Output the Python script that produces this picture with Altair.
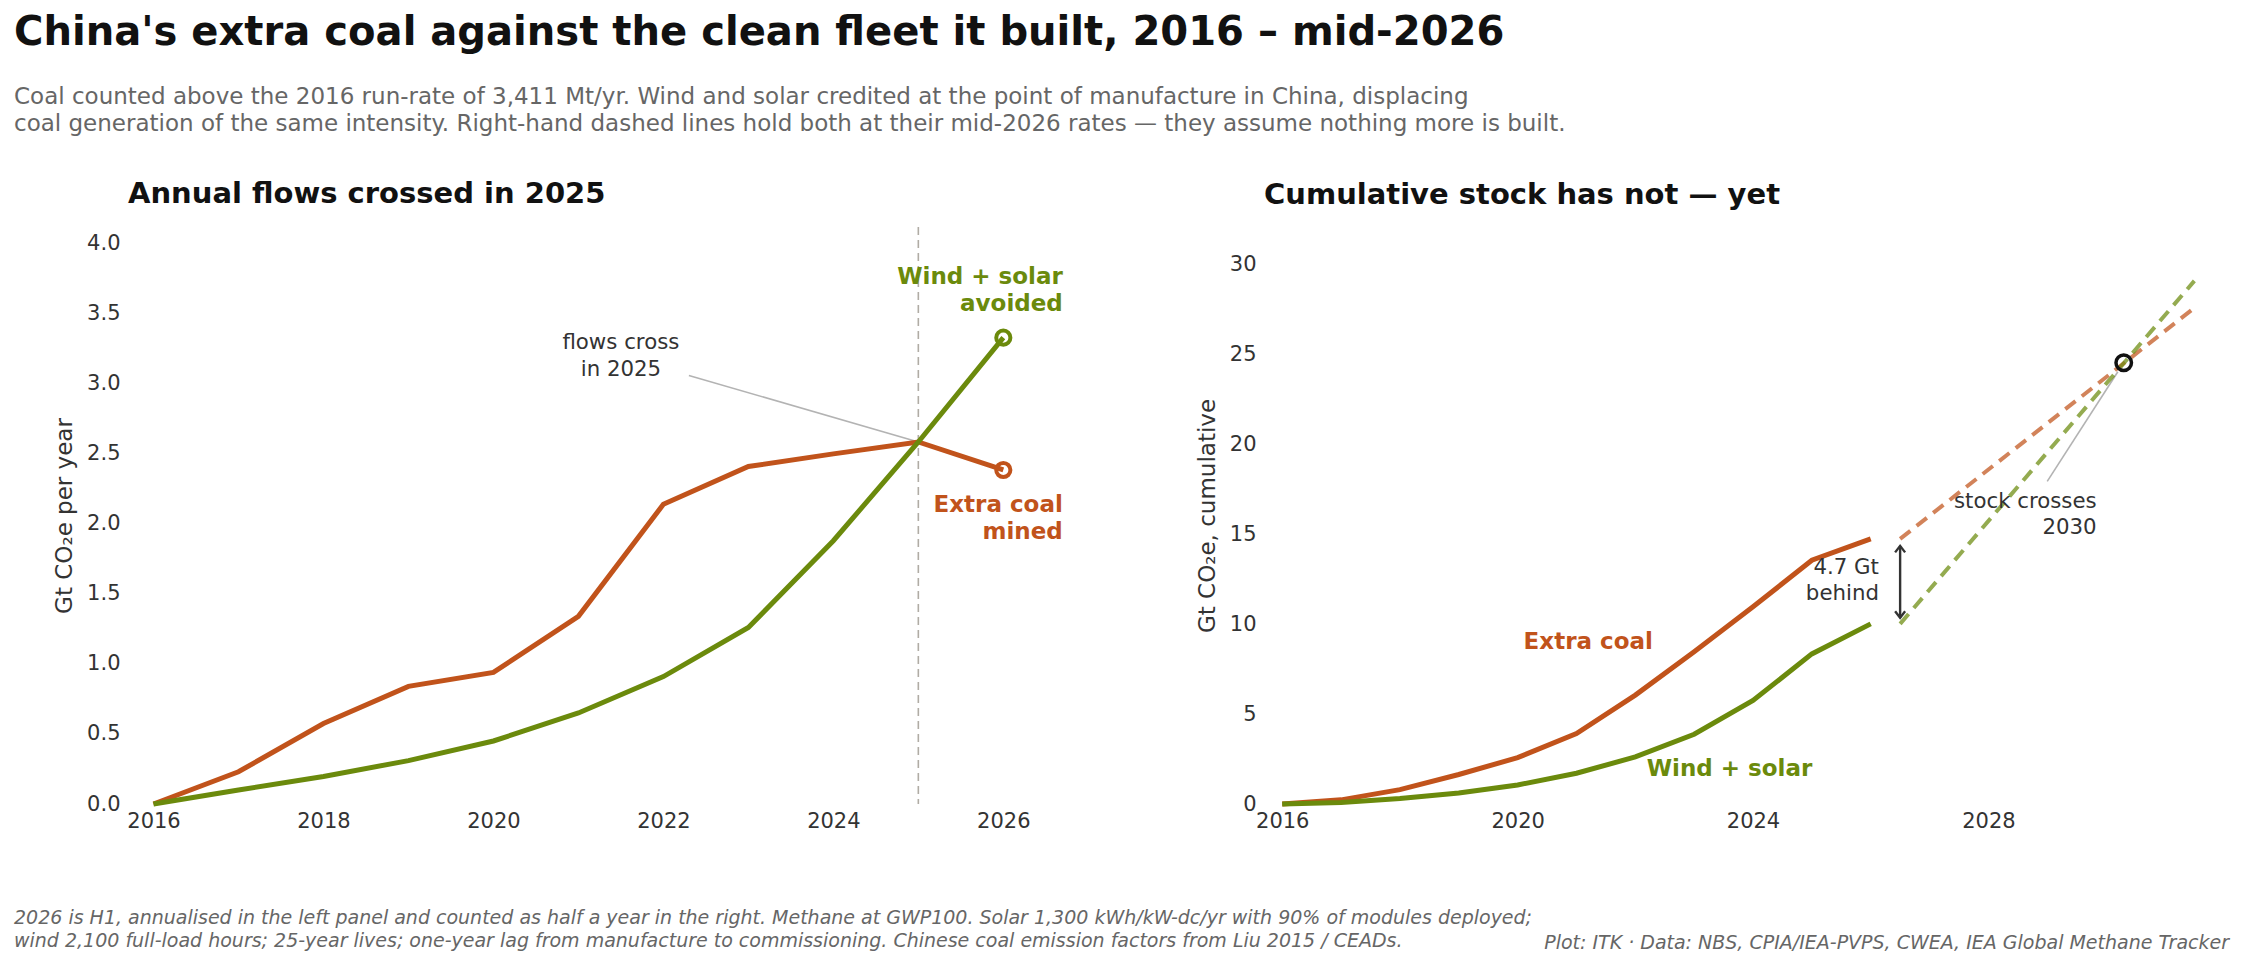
import altair as alt
import pandas as pd

# ---------------- data ----------------
years = [2016, 2017, 2018, 2019, 2020, 2021, 2022, 2023, 2024, 2025, 2026]
coal_flow = [0.0, 0.23, 0.575, 0.84, 0.94, 1.34, 2.14, 2.41, 2.50, 2.585, 2.385]
ws_flow = [0.0, 0.10, 0.196, 0.31, 0.45, 0.65, 0.91, 1.26, 1.88, 2.585, 3.33]
coal_cum = [0.0, 0.23, 0.80, 1.64, 2.58, 3.92, 6.06, 8.47, 10.97, 13.56, 14.75]
ws_cum = [0.0, 0.08, 0.30, 0.61, 1.06, 1.71, 2.62, 3.88, 5.76, 8.35, 10.02]
proj_years = [2026.5, 2031.5]
coal_proj = [14.75, 27.6]
ws_proj = [10.02, 29.1]
flow_cross_year = 2025
flow_cross_value = 2.585
stock_cross_year = 2030.3
stock_cross_value = 24.55
gap_low, gap_high = 10.36, 14.36

left_xticks = [2016, 2018, 2020, 2022, 2024, 2026]
left_yticks = [0.0, 0.5, 1.0, 1.5, 2.0, 2.5, 3.0, 3.5, 4.0]
right_xticks = [2016, 2020, 2024, 2028]
right_yticks = [0, 5, 10, 15, 20, 25, 30]

COAL = "#c1531b"
WS = "#6b8a0c"
INK = "#333333"
LEAD = "#b3b3b3"
FONT = "DejaVu Sans"

W_L, W_R, H = 945, 948, 577

title_text = "China's extra coal against the clean fleet it built, 2016 \u2013 mid-2026"
subtitle_lines = [
    "Coal counted above the 2016 run-rate of 3,411 Mt/yr. Wind and solar credited at the point of manufacture in China, displacing",
    "coal generation of the same intensity. Right-hand dashed lines hold both at their mid-2026 rates \u2014 they assume nothing more is built.",
]
foot_left = ("2026 is H1, annualised in the left panel and counted as half a year in the right. Methane at GWP100. "
             "Solar 1,300 kWh/kW-dc/yr with 90% of modules deployed;\n"
             "wind 2,100 full-load hours; 25-year lives; one-year lag from manufacture to commissioning. "
             "Chinese coal emission factors from Liu 2015 / CEADs.")
foot_right = "Plot: ITK \u00b7 Data: NBS, CPIA/IEA-PVPS, CWEA, IEA Global Methane Tracker"

LW = 5

# ---------------- left panel ----------------
xL = alt.X("x:Q", scale=alt.Scale(domain=[2015.7, 2026.82], nice=False, zero=False),
           axis=alt.Axis(values=left_xticks, format="d", title=None, labelPadding=6, labelFlush=False))
yL = alt.Y("y:Q", scale=alt.Scale(domain=[0, 4.12], nice=False, zero=False),
           axis=alt.Axis(values=left_yticks, format=".1f", title="Gt CO\u2082e per year",
                         labelPadding=8, titlePadding=10))

vline = alt.Chart(pd.DataFrame({"x": [flow_cross_year]})).mark_rule(
    color="#b0aca5", strokeWidth=1.6, strokeDash=[8, 5]).encode(x=xL)
leadL = alt.Chart(pd.DataFrame({"x": [2022.3], "y": [3.06], "x2": [flow_cross_year], "y2": [flow_cross_value]})).mark_rule(
    color=LEAD, strokeWidth=1.6).encode(x=xL, y=yL, x2="x2:Q", y2="y2:Q")
lineLc = alt.Chart(pd.DataFrame({"x": years, "y": coal_flow})).mark_line(
    color=COAL, strokeWidth=LW).encode(x=xL, y=yL)
lineLw = alt.Chart(pd.DataFrame({"x": years, "y": ws_flow})).mark_line(
    color=WS, strokeWidth=LW).encode(x=xL, y=yL)
endLc = alt.Chart(pd.DataFrame({"x": [years[-1]], "y": [coal_flow[-1]]})).mark_point(
    shape="circle", filled=False, size=200, strokeWidth=4, color=COAL, opacity=1).encode(x=xL, y=yL)
endLw = alt.Chart(pd.DataFrame({"x": [years[-1]], "y": [ws_flow[-1]]})).mark_point(
    shape="circle", filled=False, size=200, strokeWidth=4, color=WS, opacity=1).encode(x=xL, y=yL)
txtLflow = alt.Chart(pd.DataFrame({"x": [2021.5], "y": [3.29], "t": ["flows cross\nin 2025"]})).mark_text(
    align="center", baseline="middle", lineBreak="\n", lineHeight=26.5, fontSize=21.3, color=INK).encode(
    x=xL, y=yL, text="t:N")
txtLws = alt.Chart(pd.DataFrame({"x": [2026.7], "y": [3.763], "t": ["Wind + solar\navoided"]})).mark_text(
    align="right", baseline="middle", lineBreak="\n", lineHeight=27, fontSize=23, fontWeight="bold", color=WS).encode(
    x=xL, y=yL, text="t:N")
txtLc = alt.Chart(pd.DataFrame({"x": [2026.7], "y": [2.135], "t": ["Extra coal\nmined"]})).mark_text(
    align="right", baseline="middle", lineBreak="\n", lineHeight=27, fontSize=23, fontWeight="bold", color=COAL).encode(
    x=xL, y=yL, text="t:N")

left = alt.layer(vline, leadL, lineLc, lineLw, endLc, endLw, txtLflow, txtLws, txtLc).properties(
    width=W_L, height=H,
    title=alt.TitleParams("Annual flows crossed in 2025", anchor="start", frame="group", fontSize=29,
                          fontWeight="bold", color="#111111", offset=17, font=FONT))

# ---------------- right panel ----------------
xR = alt.X("x:Q", scale=alt.Scale(domain=[2015.69, 2031.8], nice=False, zero=False),
           axis=alt.Axis(values=right_xticks, format="d", title=None, labelPadding=6, labelFlush=False))
yR = alt.Y("y:Q", scale=alt.Scale(domain=[0, 32.1], nice=False, zero=False),
           axis=alt.Axis(values=right_yticks, format="d", title="Gt CO\u2082e, cumulative",
                         labelPadding=8, titlePadding=10))

projRc = alt.Chart(pd.DataFrame({"x": proj_years, "y": coal_proj})).mark_line(
    color=COAL, strokeWidth=4, strokeDash=[13, 8], opacity=0.72).encode(x=xR, y=yR)
projRw = alt.Chart(pd.DataFrame({"x": proj_years, "y": ws_proj})).mark_line(
    color=WS, strokeWidth=4, strokeDash=[13, 8], opacity=0.72).encode(x=xR, y=yR)
lineRc = alt.Chart(pd.DataFrame({"x": years, "y": coal_cum})).mark_line(
    color=COAL, strokeWidth=LW).encode(x=xR, y=yR)
lineRw = alt.Chart(pd.DataFrame({"x": years, "y": ws_cum})).mark_line(
    color=WS, strokeWidth=LW).encode(x=xR, y=yR)
leadR = alt.Chart(pd.DataFrame({"x": [2029.0], "y": [17.95], "x2": [2030.2], "y2": [24.05]})).mark_rule(
    color=LEAD, strokeWidth=1.6).encode(x=xR, y=yR, x2="x2:Q", y2="y2:Q")
crossR = alt.Chart(pd.DataFrame({"x": [stock_cross_year], "y": [stock_cross_value]})).mark_point(
    shape="circle", filled=False, size=240, strokeWidth=3.5, color="#111111", opacity=1).encode(x=xR, y=yR)
gap_df = pd.DataFrame({"x": [2026.5], "y": [gap_low], "y2": [gap_high]})
arrowRule = alt.Chart(gap_df).mark_rule(color=INK, strokeWidth=2.4).encode(x=xR, y=yR, y2="y2:Q")
headUp = alt.Chart(pd.DataFrame({"x": [2026.5], "y": [gap_high]})).mark_point(
    shape="M-1,1.3L0,0L1,1.3", filled=False, size=100, strokeWidth=2.4, color=INK, opacity=1).encode(x=xR, y=yR)
headDn = alt.Chart(pd.DataFrame({"x": [2026.5], "y": [gap_low]})).mark_point(
    shape="M-1,-1.3L0,0L1,-1.3", filled=False, size=100, strokeWidth=2.4, color=INK, opacity=1).encode(x=xR, y=yR)
txtGap = alt.Chart(pd.DataFrame({"x": [2026.14], "y": [13.15], "t": ["4.7 Gt\nbehind"]})).mark_text(
    align="right", baseline="middle", lineBreak="\n", lineHeight=26, fontSize=21.3, color=INK).encode(
    x=xR, y=yR, text="t:N")
txtStock = alt.Chart(pd.DataFrame({"x": [2029.84], "y": [16.8], "t": ["stock crosses\n2030"]})).mark_text(
    align="right", baseline="middle", lineBreak="\n", lineHeight=26, fontSize=21.3, color=INK).encode(
    x=xR, y=yR, text="t:N")
txtRc = alt.Chart(pd.DataFrame({"x": [2021.2], "y": [9.0], "t": ["Extra coal"]})).mark_text(
    align="center", baseline="middle", fontSize=23, fontWeight="bold", color=COAL).encode(x=xR, y=yR, text="t:N")
txtRw = alt.Chart(pd.DataFrame({"x": [2023.6], "y": [1.96], "t": ["Wind + solar"]})).mark_text(
    align="center", baseline="middle", fontSize=23, fontWeight="bold", color=WS).encode(x=xR, y=yR, text="t:N")

right = alt.layer(leadR, projRc, projRw, lineRc, lineRw, crossR, arrowRule, headUp, headDn,
                  txtGap, txtStock, txtRc, txtRw).properties(
    width=W_R, height=H,
    title=alt.TitleParams("Cumulative stock has not \u2014 yet", anchor="start", frame="group", fontSize=29,
                          fontWeight="bold", color="#111111", offset=17, font=FONT))

# ---------------- footer ----------------
fx = alt.X("x:Q", scale=alt.Scale(domain=[0, 1]), axis=None)
fy = alt.Y("y:Q", scale=alt.Scale(domain=[0, 1]), axis=None)
footL = alt.Chart(pd.DataFrame({"x": [0], "y": [1], "t": [foot_left]})).mark_text(
    align="left", baseline="top", lineBreak="\n", lineHeight=22.6, fontSize=19, fontStyle="italic",
    color="#666666", dx=-114).encode(x=fx, y=fy, text="t:N")
footR = alt.Chart(pd.DataFrame({"x": [1], "y": [1], "t": [foot_right]})).mark_text(
    align="right", baseline="top", fontSize=19, fontStyle="italic", color="#666666", dy=25).encode(
    x=fx, y=fy, text="t:N")
footer = alt.layer(footL, footR).properties(width=2101, height=45)

top = alt.hconcat(left, right, spacing=123)

chart = alt.vconcat(top, footer, spacing=78).properties(
    padding={"left": 6, "top": 5, "right": 2, "bottom": 1},
    title=alt.TitleParams(title_text, subtitle=subtitle_lines, anchor="start", fontSize=40.1, fontWeight="bold",
                          color="#111111", font=FONT, subtitleFont=FONT, subtitleFontSize=23,
                          subtitleColor="#666666", subtitleLineHeight=27, subtitlePadding=33, offset=44),
).configure_view(stroke=None).configure_axis(
    domain=False, ticks=False, tickSize=0, grid=False, labelFont=FONT, titleFont=FONT,
    labelFontSize=21, labelColor=INK, titleFontSize=23, titleColor=INK, titleFontWeight="normal",
).configure_text(font=FONT).configure_title(font=FONT)

chart.save("out.html", embed_options={"renderer": "svg", "actions": False})
